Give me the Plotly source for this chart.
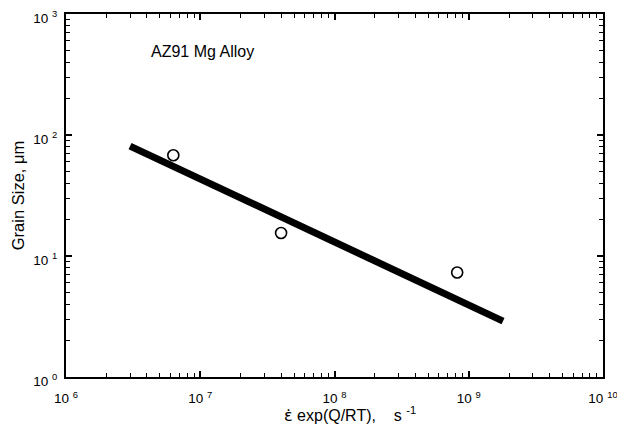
import plotly.graph_objects as go

# data
fit_x = [3.0e6, 1.8e9]
fit_y = [81, 2.9]
pts_x = [6.3e6, 4.0e7, 8.2e8]
pts_y = [68, 15.5, 7.3]

x_major = [1e6, 1e7, 1e8, 1e9, 1e10]
x_major_text = ["10 <sup>6</sup>", "10 <sup>7</sup>", "10 <sup>8</sup>", "10 <sup>9</sup>", "10 <sup>10</sup>"]
y_major = [1, 10, 100, 1000]
y_major_text = ["10 <sup>0</sup>", "10 <sup>1</sup>", "10 <sup>2</sup>", "10 <sup>3</sup>"]

x_minor = [m * 10 ** e for e in range(6, 10) for m in range(2, 10)]
y_minor = [m * 10 ** e for e in range(0, 3) for m in range(2, 10)]

x_title = '<span style="font-family:DejaVu Sans">ε̇</span> exp(Q/RT),\u00a0\u00a0\u00a0 s <sup>-1</sup>'
y_title = "Grain Size, μm"
label = "AZ91 Mg Alloy"

font = "Liberation Sans, Arial, sans-serif"

fig = go.Figure()
fig.add_trace(go.Scatter(x=fit_x, y=fit_y, mode="lines",
                         line=dict(color="black", width=7), showlegend=False))
fig.add_trace(go.Scatter(x=pts_x, y=pts_y, mode="markers",
                         marker=dict(symbol="circle-open", size=11, color="black",
                                     line=dict(width=1.6, color="black")),
                         showlegend=False))

axis_common = dict(
    showgrid=False, zeroline=False, showline=True, linecolor="black", linewidth=2,
    mirror="allticks", ticks="inside", ticklen=6, tickwidth=1.5, tickcolor="black",
    tickfont=dict(family=font, size=13.5, color="black"), automargin=False,
    ticklabeloverflow="allow",
)

fig.update_xaxes(type="log", range=[6, 10], tickmode="array", tickvals=x_major,
                 ticktext=x_major_text, ticklabelstandoff=8,
                 minor=dict(tickmode="array", tickvals=x_minor, ticks="inside", ticklen=4,
                            tickwidth=1.3, tickcolor="black"),
                 **axis_common)
fig.update_yaxes(type="log", range=[0, 3], tickmode="array", tickvals=y_major,
                 ticktext=y_major_text, ticklabelstandoff=4, ticklabelshift=4,
                 minor=dict(tickmode="array", tickvals=y_minor, ticks="inside", ticklen=4,
                            tickwidth=1.3, tickcolor="black"),
                 title=dict(text=y_title,
                            font=dict(family=font, size=16.5, color="black"), standoff=4),
                 **axis_common)

fig.add_annotation(text=x_title, xref="paper", yref="paper", x=0.529, y=-0.103,
                   xanchor="center", yanchor="middle", showarrow=False,
                   font=dict(family=font, size=16, color="black"))
fig.add_annotation(text=label, xref="paper", yref="paper", x=0.154, y=0.898,
                   xanchor="left", yanchor="middle", showarrow=False,
                   font=dict(family=font, size=16, color="black"))

fig.update_layout(width=617, height=423, margin=dict(l=58, r=22, t=6, b=54),
                  plot_bgcolor="white", paper_bgcolor="white",
                  font=dict(family=font, color="black"))

fig.write_html("out.html")
